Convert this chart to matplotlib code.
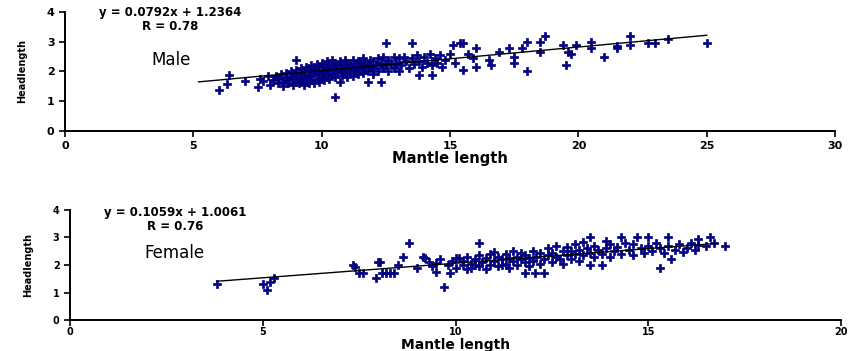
import matplotlib

matplotlib.use("Agg")
import matplotlib.pyplot as plt
import numpy as np

plt.rcParams["font.family"] = ["DejaVu Sans"]
plt.rcParams["font.weight"] = "bold"
plt.rcParams["axes.labelweight"] = "bold"

# Male: mantle length vs head length
male_x = [
    6.0, 6.3, 6.4, 7.0, 7.5, 7.7, 7.9, 7.6,
    8.0, 8.1, 8.2, 8.3, 8.3, 8.4, 8.5, 8.5, 8.6, 8.6, 8.7, 8.7, 8.8, 8.8, 8.9, 8.9, 9.0, 9.0, 9.0, 9.0,
    9.1, 9.1, 9.2, 9.2, 9.2, 9.3, 9.3, 9.3, 9.4, 9.4, 9.4, 9.5, 9.5, 9.5, 9.6, 9.6, 9.6, 9.7, 9.7, 9.7,
    9.8, 9.8, 9.8, 9.9, 9.9, 9.9, 10.0, 10.0, 10.0,
    10.1, 10.1, 10.1, 10.2, 10.2, 10.2, 10.3, 10.3, 10.3, 10.4, 10.4, 10.4, 10.5, 10.5, 10.5, 10.5,
    10.6, 10.6, 10.7, 10.7, 10.7, 10.8, 10.8, 10.8, 10.9, 10.9, 10.9, 11.0, 11.0, 11.0,
    11.1, 11.1, 11.2, 11.2, 11.2, 11.3, 11.3, 11.4, 11.4, 11.4, 11.5, 11.5, 11.6, 11.6, 11.6,
    11.7, 11.7, 11.8, 11.8, 11.8, 11.9, 11.9, 12.0, 12.0, 12.0,
    12.1, 12.2, 12.2, 12.3, 12.3, 12.4, 12.4, 12.5, 12.5, 12.6, 12.6, 12.7, 12.8, 12.8, 12.9, 13.0, 13.0,
    13.1, 13.2, 13.3, 13.4, 13.5, 13.5, 13.6, 13.7, 13.8, 13.8, 13.9, 14.0, 14.1, 14.2, 14.3, 14.3,
    14.4, 14.5, 14.6, 14.7, 14.8, 15.0, 15.1, 15.2,
    15.5, 15.5, 15.4, 15.7, 16.0, 15.9, 16.0, 16.5, 16.6, 16.9, 17.3, 17.8, 17.5, 17.5, 18.0, 18.0,
    18.5, 18.7, 18.5, 19.4, 19.7, 19.6, 19.5, 19.9, 20.5, 20.5, 21.0,
    21.5, 21.5, 22.0, 22.0, 22.7, 23.0, 23.5, 25.0,
]
male_y = [
    1.38, 1.58, 1.88, 1.68, 1.48, 1.68, 1.85, 1.75,
    1.55, 1.70, 1.85, 1.60, 1.75, 1.90, 1.50, 1.65, 1.80, 1.95, 1.60, 1.70, 1.85, 2.00, 1.55, 1.75, 1.65, 1.90, 2.05, 2.39,
    1.60, 1.80, 1.70, 1.95, 2.10, 1.55, 1.85, 2.00, 1.65, 1.75, 2.15, 1.60, 1.90, 2.05, 1.70, 1.85, 2.20, 1.60, 1.95, 2.10,
    1.75, 2.00, 2.25, 1.65, 1.90, 2.15, 1.80, 2.00, 2.30,
    1.70, 1.95, 2.20, 1.85, 2.10, 2.35, 1.75, 2.00, 2.25, 1.90, 2.15, 2.40, 1.15, 1.80, 2.05, 2.30,
    1.95, 2.20, 1.65, 2.10, 2.35, 1.85, 2.00, 2.25, 1.90, 2.15, 2.40, 1.80, 2.05, 2.30,
    1.95, 2.20, 1.85, 2.10, 2.40, 2.00, 2.25, 1.90, 2.15, 2.35, 2.05, 2.30, 1.95, 2.20, 2.45,
    2.10, 2.30, 1.65, 2.00, 2.25, 2.15, 2.40, 1.90, 2.10, 2.35,
    2.20, 2.00, 2.45, 1.65, 2.30, 2.10, 2.50, 2.96, 2.20, 2.00, 2.40, 2.25, 2.10, 2.50, 2.30, 2.00, 2.45,
    2.20, 2.50, 2.35, 2.10, 2.96, 2.45, 2.25, 2.55, 1.88, 2.35, 2.15, 2.50, 2.30, 2.60, 1.88, 2.20,
    2.45, 2.30, 2.55, 2.15, 2.40, 2.60, 2.90, 2.30,
    2.95, 2.05, 2.96, 2.60, 2.80, 2.45, 2.15, 2.40, 2.20, 2.65, 2.80, 2.80, 2.50, 2.30, 3.00, 2.00,
    3.00, 3.20, 2.65, 2.90, 2.60, 2.65, 2.20, 2.90, 3.00, 2.80, 2.50,
    2.85, 2.80, 3.20, 2.90, 2.95, 2.95, 3.10, 2.95,
]

female_x = [
    3.8, 5.0, 5.1, 5.2, 5.3,
    7.35, 7.5, 7.4, 7.6, 8.0, 7.95, 8.05, 8.1, 8.2, 8.3, 8.4, 8.5, 8.65, 8.8, 9.0, 9.15, 9.2,
    9.3, 9.4, 9.5, 9.5, 9.6, 9.7, 9.8, 9.85, 9.9,
    10.0, 10.0, 10.1, 10.2, 10.2, 10.3, 10.3, 10.4, 10.4, 10.5, 10.5, 10.6, 10.6, 10.6, 10.7, 10.8, 10.8,
    10.9, 10.9, 11.0, 11.0, 11.1, 11.1,
    11.2, 11.2, 11.3, 11.3, 11.4, 11.4, 11.5, 11.5, 11.6, 11.6, 11.7, 11.7, 11.8, 11.8, 11.9, 11.9,
    12.0, 12.0, 12.06, 11.8,
    12.1, 12.2, 12.2, 12.3, 12.3, 12.4, 12.4, 12.5, 12.5, 12.6, 12.6, 12.7, 12.8, 12.8, 12.9, 12.9, 13.0, 13.0,
    13.1, 13.1, 13.2, 13.2, 13.3, 13.3, 13.4, 13.5, 13.5, 13.5, 13.6, 13.6, 13.7, 13.8, 13.8, 13.9, 13.9,
    14.0, 14.0,
    14.1, 14.2, 14.3, 14.3, 14.4, 14.5, 14.6, 14.6, 14.7, 14.8, 14.9, 15.0, 15.0,
    15.1, 15.2, 15.3, 15.3, 15.4, 15.5, 15.5, 15.6, 15.7, 15.8, 15.9, 16.0, 16.1, 16.2, 16.3, 16.3,
    16.5, 16.6, 16.7, 17.0,
]
female_y = [
    1.30, 1.30, 1.10, 1.38, 1.52,
    2.00, 1.70, 1.93, 1.70, 2.10, 1.52, 2.10, 1.70, 1.70, 1.70, 1.70, 2.00, 2.28, 2.80, 1.90, 2.30, 2.25,
    2.10, 1.95, 2.07, 1.75, 2.20, 1.20, 2.00, 1.70, 2.15,
    1.90, 2.25, 2.25, 2.00, 2.15, 1.85, 2.30, 2.05, 1.90, 2.20, 2.00, 2.80, 2.35, 1.95, 2.10, 2.25, 1.85,
    2.00, 2.40, 2.15, 2.47, 1.95, 2.30,
    2.00, 2.20, 2.40, 2.05, 2.25, 1.90, 2.15, 2.50, 2.30, 2.00, 2.20, 2.45, 2.10, 2.35, 1.95, 2.25,
    2.50, 2.15, 1.70, 1.70,
    2.30, 2.05, 2.45, 2.20, 1.70, 2.35, 2.60, 2.10, 2.45, 2.30, 2.70, 2.20, 2.50, 2.05, 2.35, 2.65, 2.20, 2.50,
    2.40, 2.75, 2.15, 2.55, 2.35, 2.85, 2.60, 3.00, 2.00, 2.45, 2.70, 2.30, 2.55, 2.00, 2.40, 2.87, 2.60,
    2.30, 2.75,
    2.50, 2.65, 3.00, 2.40, 2.80, 2.55, 2.35, 2.75, 3.00, 2.60, 2.45, 3.00, 2.70,
    2.50, 2.80, 1.90, 2.60, 2.45, 3.00, 2.70, 2.20, 2.55, 2.75, 2.47, 2.60, 2.80, 2.55, 2.95, 2.73,
    2.70, 3.00, 2.80, 2.70,
]

male_xticks = [0, 5, 10, 15, 20, 25, 30]
female_xticks = [0, 5, 10, 15, 20]
yticks = [0, 1, 2, 3, 4]

# trend lines as given in the figure
male_fit = (0.0792, 1.2364, 5.2, 25.0)
female_fit = (0.1059, 1.0061, 3.8, 16.8)

NAVY = "#000080"

fig = plt.figure(figsize=(8.5, 3.51), dpi=100)
ax1 = fig.add_axes([0.0765, 0.627, 0.906, 0.339])
ax2 = fig.add_axes([0.0824, 0.088, 0.907, 0.314])


def style(ax, xticks, xlabelpad, tickpad, ticksize, labelsize):
    for s in ("top", "right"):
        ax.spines[s].set_visible(False)
    for s in ("left", "bottom"):
        ax.spines[s].set_linewidth(1.4)
    ax.set_xlim(xticks[0], xticks[-1])
    ax.set_ylim(yticks[0], yticks[-1])
    ax.set_xticks(xticks, [str(t) for t in xticks], fontweight="bold", fontsize=ticksize)
    ax.set_yticks(yticks, [str(t) for t in yticks], fontweight="bold", fontsize=ticksize)
    ax.tick_params(direction="out", length=4, width=1.2)
    ax.tick_params(axis="x", pad=tickpad)
    ax.set_xlabel("Mantle length", fontsize=labelsize, fontweight="bold", labelpad=xlabelpad)
    ax.set_ylabel("Headlength", fontsize=7, fontweight="bold", labelpad=14)


for ax, xs, ys, fit, xt, eq, r, name, pos, lp, tp, ts, ls in [
    (ax1, male_x, male_y, male_fit, male_xticks, "y = 0.0792x + 1.2364", "R = 0.78", "Male",
     (4.1, 3.97, 3.5, 4.15, 2.39), 0, 3, 8, 10.5),
    (ax2, female_x, female_y, female_fit, female_xticks, "y = 0.1059x + 1.0061", "R = 0.76",
     "Female", (2.72, 3.9, 3.4, 2.72, 2.45), 0.5, 1, 7, 10),
]:
    ax.plot(xs, ys, "P", color=NAVY, markersize=6.2, markeredgewidth=0.5,
            markeredgecolor=NAVY, linestyle="none")
    a, b, x0, x1 = fit
    lx = np.array([x0, x1])
    ax.plot(lx, a * lx + b, color="black", linewidth=1.0)
    style(ax, xt, lp, tp, ts, ls)
    ax.text(pos[0], pos[1], eq, ha="center", va="center", fontsize=8.5, fontweight="bold")
    ax.text(pos[0], pos[2], r, ha="center", va="center", fontsize=8.5, fontweight="bold")
    ax.text(pos[3], pos[4], name, ha="center", va="center", fontsize=12, fontweight="normal")

fig.savefig("out.png", dpi=100)
